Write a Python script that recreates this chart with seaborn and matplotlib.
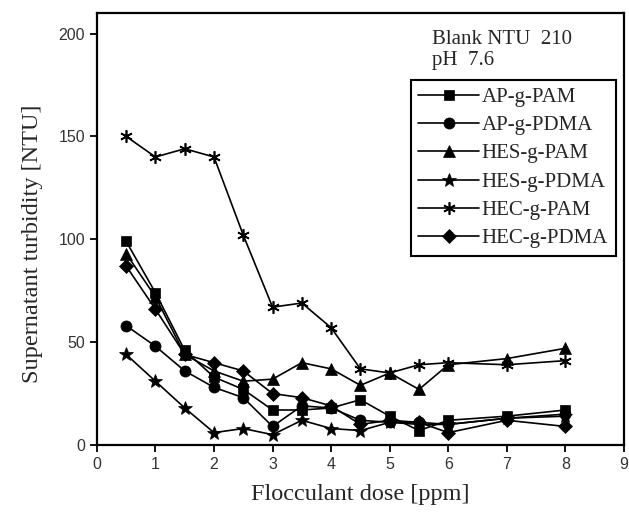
import pandas as pd
import seaborn as sns
import matplotlib.pyplot as plt


dose = [0.5, 1, 1.5, 2, 2.5, 3, 3.5, 4, 4.5, 5, 5.5, 6, 7, 8]

ap_g_pam = [99, 74, 46, 33, 27, 17, 17, 18, 22, 14, 7, 12, 14, 17]
ap_g_pdma = [58, 48, 36, 28, 23, 9, 19, 18, 12, 11, 11, 10, 13, 15]
hes_g_pam = [93, 72, 44, 36, 31, 32, 40, 37, 29, 35, 27, 39, 42, 47]
hes_g_pdma = [44, 31, 18, 6, 8, 5, 12, 8, 7, 11, 10, 10, 13, 14]
hec_g_pam = [150, 140, 144, 140, 102, 67, 69, 57, 37, 35, 39, 40, 39, 41]
hec_g_pdma = [87, 66, 44, 40, 36, 25, 23, 19, 10, 12, 11, 6, 12, 9]

names = ['AP-g-PAM', 'AP-g-PDMA', 'HES-g-PAM', 'HES-g-PDMA', 'HEC-g-PAM', 'HEC-g-PDMA']
markers = ['s', 'o', '^', '*', (6, 2, 0), 'D']
sizes = [7, 8, 8, 10, 9, 7]

x_ticks = [0, 1, 2, 3, 4, 5, 6, 7, 8, 9]
y_ticks = [0, 50, 100, 150, 200]


def main() -> None:

    series = [ap_g_pam, ap_g_pdma, hes_g_pam, hes_g_pdma, hec_g_pam, hec_g_pdma]
    df = pd.concat([
        pd.DataFrame({'dose': dose, 'ntu': vals, 'sample': name})
        for name, vals in zip(names, series)
    ])

    sns.set_style('ticks')
    plt.rcParams['font.family'] = ['Liberation Sans', 'DejaVu Sans']

    fig = plt.figure(figsize=(6.29, 5.13), dpi=100)
    ax = fig.add_axes([0.154, 0.1326, 0.838, 0.8421])

    for name, m, s in zip(names, markers, sizes):
        sns.lineplot(
            data=df[df['sample'] == name],
            x='dose',
            y='ntu',
            color='black',
            marker=m,
            markersize=s,
            markeredgecolor='black',
            markeredgewidth=1.2 if m == (6, 2, 0) else 0.5,
            linewidth=1.2,
            label=name,
            ax=ax
        )

    ax.set_xlim(0, 9)
    ax.set_ylim(0, 210)
    ax.set_xticks(x_ticks)
    ax.set_yticks(y_ticks)
    ax.tick_params(axis='both', direction='out', length=5, width=1.3,
                   labelsize=11.5, colors='black', labelcolor='#333333')
    for side in ['top', 'right', 'left', 'bottom']:
        ax.spines[side].set_visible(True)
        ax.spines[side].set_linewidth(1.6)
        ax.spines[side].set_color('black')

    serif = ['Liberation Serif', 'DejaVu Serif']
    ax.set_xlabel('Flocculant dose [ppm]', fontsize=17.5, family=serif, labelpad=9)
    ax.set_ylabel('Supernatant turbidity [NTU]', fontsize=17.5, family=serif)
    ax.yaxis.set_label_coords(-0.103, 0.465)

    ax.text(0.635, 0.96, 'Blank NTU  210\npH  7.6', transform=ax.transAxes,
            fontsize=15, family=serif, va='top', ha='left', linespacing=1.15)

    leg = ax.legend(loc='upper right', bbox_to_anchor=(0.984, 0.845),
                    prop={'family': serif, 'size': 15},
                    frameon=True, fancybox=False, framealpha=1,
                    edgecolor='black', handlelength=2.9, handletextpad=0.15,
                    labelspacing=0.42, borderpad=0.35, borderaxespad=0)
    leg.get_frame().set_linewidth(1.5)

    plt.savefig('out.png', dpi=100)


if __name__ == '__main__':
    main()
